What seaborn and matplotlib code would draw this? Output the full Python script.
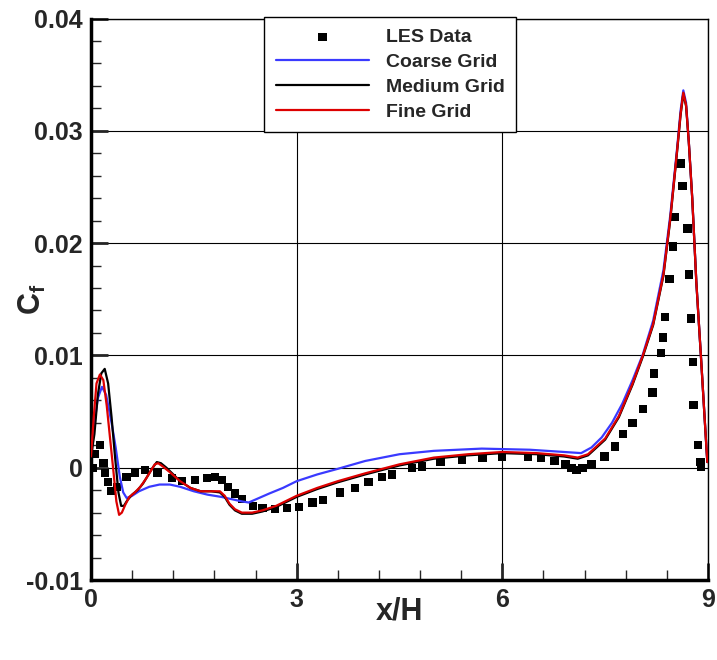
import numpy as np
import pandas as pd
import matplotlib
matplotlib.use("Agg")
import matplotlib.pyplot as plt
import seaborn as sns
from matplotlib.ticker import MultipleLocator

# LES reference data (squares)
les_x = [0.03, 0.06, 0.13, 0.18, 0.2, 0.25, 0.3, 0.38, 0.52, 0.64, 0.79, 0.97,
         1.18, 1.33, 1.52, 1.69, 1.81, 1.91, 2.0, 2.1, 2.2, 2.36, 2.5, 2.68,
         2.86, 3.03, 3.23, 3.38, 3.63, 3.85, 4.05, 4.24, 4.39, 4.68, 4.83,
         5.1, 5.41, 5.71, 6.0, 6.37, 6.56, 6.76, 6.92, 7.01, 7.08, 7.17, 7.3,
         7.49, 7.64, 7.76, 7.9, 8.05, 8.19, 8.21, 8.31, 8.34, 8.37, 8.44, 8.49,
         8.51, 8.6, 8.63, 8.7, 8.72, 8.75, 8.78, 8.79, 8.85, 8.89, 8.9]
les_y = [0.0, 0.0012, 0.002, 0.0004, -0.0005, -0.0013, -0.0021, -0.0017,
         -0.0008, -0.0005, -0.0002, -0.0005, -0.0009, -0.0012, -0.0011,
         -0.0009, -0.0008, -0.0011, -0.0017, -0.0023, -0.0028, -0.0034,
         -0.0036, -0.0037, -0.0036, -0.0035, -0.0031, -0.0029, -0.0022,
         -0.0018, -0.0013, -0.0008, -0.0006, 0.0, 0.0001, 0.0005, 0.0007,
         0.0009, 0.001, 0.001, 0.0009, 0.0006, 0.0003, 0.0, -0.0002, 0.0,
         0.0003, 0.001, 0.0019, 0.003, 0.004, 0.0052, 0.0067, 0.0084, 0.0102,
         0.0116, 0.0134, 0.0168, 0.0197, 0.0223, 0.0271, 0.0251, 0.0213,
         0.0172, 0.0133, 0.0094, 0.0056, 0.002, 0.0005, 0.0001]

# Coarse grid
coarse_x = [0, 0.05, 0.1, 0.16, 0.22, 0.3, 0.36, 0.42, 0.47, 0.52, 0.6, 0.7,
            0.85, 1.0, 1.15, 1.3, 1.5, 1.7, 1.9, 2.05, 2.2, 2.3, 2.45, 2.6,
            2.8, 3.0, 3.3, 3.6, 4.0, 4.5, 5.0, 5.7, 6.4, 6.9, 7.15, 7.3, 7.45,
            7.6, 7.75, 7.9, 8.05, 8.2, 8.35, 8.45, 8.55, 8.6, 8.64, 8.68, 8.72,
            8.77, 8.83, 8.9, 8.95, 8.99]
coarse_y = [0.0015, 0.004, 0.0062, 0.0072, 0.0065, 0.004, 0.0018, -0.0008,
            -0.0022, -0.0027, -0.0025, -0.0021, -0.0017, -0.0015, -0.0015,
            -0.0017, -0.0021, -0.0024, -0.0026, -0.0028, -0.003, -0.0031,
            -0.0027, -0.0023, -0.0018, -0.0012, -0.0006, -0.0001, 0.0006,
            0.0012, 0.0015, 0.0017, 0.0016, 0.0014, 0.0013, 0.0018, 0.0027,
            0.004, 0.0057, 0.0078, 0.0101, 0.0131, 0.0176, 0.0225, 0.0285,
            0.0318, 0.0336, 0.0325, 0.029, 0.024, 0.0165, 0.0096, 0.0045,
            0.0005]

# Medium grid
medium_x = [0, 0.05, 0.1, 0.15, 0.2, 0.25, 0.3, 0.35, 0.4, 0.44, 0.48, 0.53,
            0.6, 0.68, 0.76, 0.84, 0.9, 0.96, 1.02, 1.1, 1.2, 1.3, 1.45, 1.6,
            1.75, 1.88, 1.95, 2.02, 2.1, 2.2, 2.35, 2.5, 2.7, 3.0, 3.3, 3.6,
            4.0, 4.5, 5.0, 5.5, 6.0, 6.5, 6.9, 7.1, 7.25, 7.5, 7.7, 7.9, 8.05,
            8.2, 8.35, 8.45, 8.55, 8.6, 8.64, 8.68, 8.72, 8.77, 8.83, 8.9,
            8.95, 8.99]
medium_y = [0.001, 0.003, 0.0065, 0.0084, 0.0088, 0.0075, 0.0045, 0.001,
            -0.0022, -0.0034, -0.0034, -0.0029, -0.0024, -0.002, -0.0014,
            -0.0006, 0.0, 0.0005, 0.0004, 0.0, -0.0006, -0.0012, -0.0018,
            -0.0021, -0.0021, -0.0022, -0.0026, -0.0033, -0.0038, -0.0041,
            -0.0041, -0.0039, -0.0035, -0.0026, -0.0019, -0.0013, -0.0006,
            0.0002, 0.0008, 0.0011, 0.0013, 0.0012, 0.001, 0.0008, 0.0011,
            0.0025, 0.0045, 0.0074, 0.0099, 0.0127, 0.0171, 0.0221, 0.0282,
            0.0314, 0.0333, 0.0322, 0.029, 0.024, 0.0165, 0.0096, 0.0045,
            0.0005]

# Fine grid
fine_x = [0, 0.04, 0.08, 0.13, 0.18, 0.23, 0.28, 0.33, 0.37, 0.41, 0.45, 0.5,
          0.56, 0.64, 0.72, 0.8, 0.87, 0.93, 0.98, 1.05, 1.15, 1.3, 1.45, 1.6,
          1.75, 1.88, 1.95, 2.02, 2.1, 2.2, 2.35, 2.5, 2.7, 3.0, 3.3, 3.6,
          4.0, 4.5, 5.0, 5.5, 6.0, 6.5, 6.9, 7.1, 7.25, 7.5, 7.7, 7.9, 8.05,
          8.2, 8.35, 8.45, 8.55, 8.6, 8.64, 8.68, 8.72, 8.77, 8.83, 8.9,
          8.95, 8.99]
fine_y = [0.001, 0.0045, 0.0075, 0.0083, 0.0078, 0.0055, 0.0025, -0.0005,
          -0.003, -0.0042, -0.004, -0.0033, -0.0026, -0.0022, -0.0017,
          -0.001, -0.0003, 0.0003, 0.0004, 0.0001, -0.0004, -0.0012, -0.0018,
          -0.0021, -0.0021, -0.0021, -0.0025, -0.0032, -0.0037, -0.004,
          -0.004, -0.0038, -0.0034, -0.0025, -0.0018, -0.0012, -0.0005,
          0.0003, 0.0009, 0.0012, 0.0014, 0.0013, 0.0011, 0.0009, 0.0012,
          0.0026, 0.0046, 0.0075, 0.01, 0.0128, 0.0172, 0.0222, 0.0283,
          0.0315, 0.0334, 0.0323, 0.029, 0.024, 0.0165, 0.0096, 0.0045,
          0.0005]

sns.set_style("white")
plt.rcParams["font.family"] = ["Liberation Sans", "DejaVu Sans"]
plt.rcParams["font.weight"] = "bold"
plt.rcParams["mathtext.fontset"] = "custom"
plt.rcParams["mathtext.bf"] = "Liberation Sans:bold"
plt.rcParams["mathtext.rm"] = "Liberation Sans:bold"

fig = plt.figure(figsize=(7.17, 6.6), dpi=100)
ax = fig.add_axes([91 / 717, 1 - 580 / 660, 617 / 717, 561.5 / 660])

sns.scatterplot(x=les_x, y=les_y, ax=ax, marker="s", s=36, color="black",
                edgecolor="none", label="LES Data", zorder=2)
sns.lineplot(x=coarse_x, y=coarse_y, ax=ax, sort=False, estimator=None,
             color="#3a3aff", lw=1.6, label="Coarse Grid", zorder=3)
sns.lineplot(x=medium_x, y=medium_y, ax=ax, sort=False, estimator=None,
             color="black", lw=1.6, label="Medium Grid", zorder=4)
sns.lineplot(x=fine_x, y=fine_y, ax=ax, sort=False, estimator=None,
             color="#dd0000", lw=1.6, label="Fine Grid", zorder=5)

ax.set_xlim(0, 9)
ax.set_ylim(-0.01, 0.04)
ax.xaxis.set_minor_locator(MultipleLocator(0.6))
ax.yaxis.set_minor_locator(MultipleLocator(0.002))
ax.set_yticks([-0.01, 0, 0.01, 0.02, 0.03, 0.04])
ax.set_yticklabels(["-0.01", "0", "0.01", "0.02", "0.03", "0.04"])
ax.set_xticks([0, 3, 6, 9])
ax.set_xticklabels(["0", "3", "6", "9"])

ax.grid(True, which="major", color="black", lw=0.8)
ax.tick_params(which="major", direction="in", length=12, width=2,
               labelsize=18, pad=6)
ax.tick_params(which="minor", direction="in", length=7, width=1)
ax.tick_params(axis="y", which="both", left=True, right=False)
ax.tick_params(axis="x", which="both", bottom=True, top=False)
for side in ["left", "bottom"]:
    ax.spines[side].set_linewidth(2.5)
for side in ["top", "right"]:
    ax.spines[side].set_linewidth(1)
for s in ax.spines.values():
    s.set_color("black")

ax.set_xlabel("x/H", fontsize=22, fontweight="bold")
ax.set_ylabel(r"$\mathbf{C_f}$", fontsize=22)
ax.xaxis.set_label_coords(0.5, -0.03)
ax.yaxis.set_label_coords(-0.07, 0.5)

leg = ax.legend(loc="upper left", bbox_to_anchor=(264 / 717, 1 - 17 / 660),
                bbox_transform=fig.transFigure, borderaxespad=0,
                fontsize=14, handlelength=4.8, labelspacing=0.37,
                borderpad=0.6, handletextpad=0.85, fancybox=False,
                framealpha=1, edgecolor="black", scatterpoints=1)
leg.get_frame().set_linewidth(1)

fig.savefig("out.png", dpi=100)
